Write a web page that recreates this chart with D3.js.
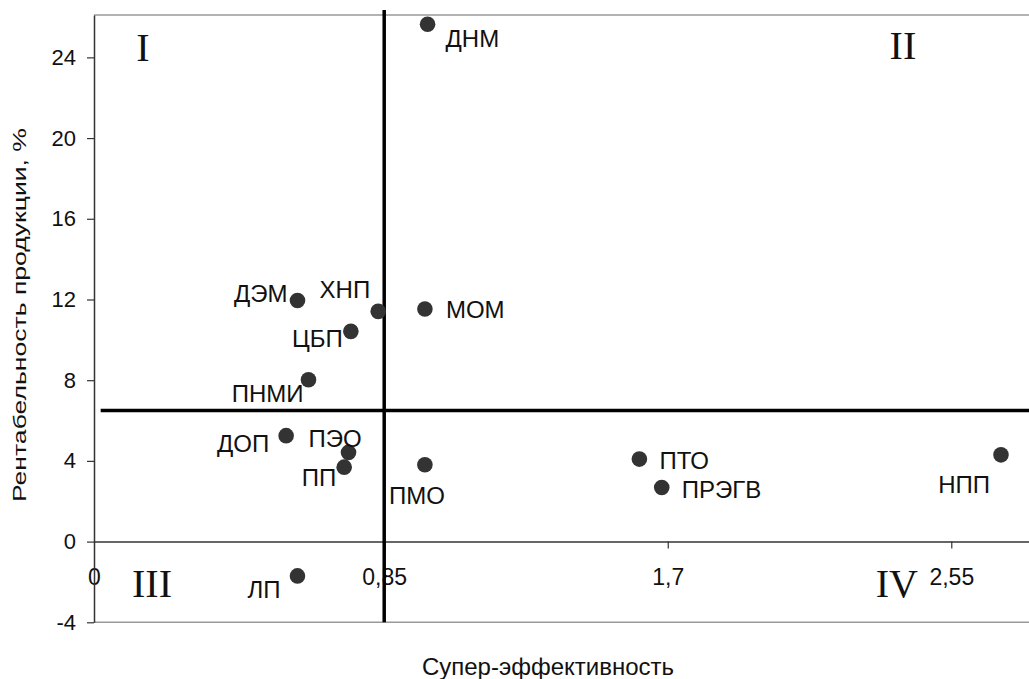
<!DOCTYPE html>
<html>
<head>
<meta charset="utf-8">
<script src="https://cdn.jsdelivr.net/npm/d3@7"></script>
<style>
    body { margin: 0; background: #fff; }
    text { font-family: "Liberation Sans", Arial, sans-serif; fill: #111; }
</style>
</head>
<body>
<div id="chart"></div>
<script>
// enterprises: super-efficiency vs product profitability (%)
const pointNames = ["ДНМ", "ДЭМ", "ХНП", "МОМ", "ЦБП", "ПНМИ", "ДОП", "ПЭО", "ПП", "ПМО", "ЛП", "ПТО", "ПРЭГВ", "НПП"];
const superEff = [0.98, 0.59, 0.832, 0.972, 0.75, 0.623, 0.556, 0.743, 0.73, 0.972, 0.59, 1.615, 1.682, 2.699];
const profitability = [25.64, 11.95, 11.41, 11.53, 10.42, 8.02, 5.25, 4.42, 3.69, 3.81, -1.7, 4.09, 2.68, 4.3];

const effThreshold = 0.85;
const profitThreshold = 6.5;

const xTicks = [0, 0.85, 1.7, 2.55];
const yTicks = [-4, 0, 4, 8, 12, 16, 20, 24];

const quadrantNames = ["I", "II", "III", "IV"];
const quadrantX = [0.127, 2.405, 0.154, 2.387];
const quadrantY = [23.8, 23.9, -2.74, -2.74];

const xTitle = "Супер-эффективность";
const yTitle = "Рентабельность продукции, %";

// label placement next to each dot: dx, dy, anchor
const labelPlace = {
    "ДНМ": [18, 23, "start"],
    "ДЭМ": [-10, 2, "end"],
    "ХНП": [-8, -13, "end"],
    "МОМ": [21, 9, "start"],
    "ЦБП": [-8, 16, "end"],
    "ПНМИ": [-5, 22, "end"],
    "ДОП": [-17, 16.5, "end"],
    "ПЭО": [-40, -5, "start"],
    "ПП": [-8, 19, "end"],
    "ПМО": [-36, 39, "start"],
    "ЛП": [-17, 22, "end"],
    "ПТО": [20, 10, "start"],
    "ПРЭГВ": [20, 10, "start"],
    "НПП": [-11, 38, "end"]
};

const W = 1029, H = 679;
const plotLeft = 94, plotRight = 1029, plotTop = 15, plotBottom = 622.3;

const data = pointNames.map((n, i) => ({name: n, x: superEff[i], y: profitability[i]}));

const svg = d3.select("#chart").append("svg")
    .attr("width", W)
    .attr("height", H);

const x = d3.scaleLinear()
    .domain([-0.02, 2.783])
    .range([plotLeft, plotRight]);

const y = d3.scaleLinear()
    .domain([-4, 26.1])
    .range([plotBottom, plotTop]);

const fmt = d => String(d).replace(".", ",");

// top and bottom frame lines
svg.append("line")
    .attr("x1", plotLeft).attr("x2", plotRight)
    .attr("y1", y(26.1)).attr("y2", y(26.1))
    .attr("stroke", "#9a9a9a").attr("stroke-width", 1.5);
svg.append("line")
    .attr("x1", plotLeft).attr("x2", plotRight)
    .attr("y1", y(-4)).attr("y2", y(-4))
    .attr("stroke", "#9a9a9a").attr("stroke-width", 1.5);

// x axis through zero
const xAxis = svg.append("g")
    .attr("transform", "translate(0," + y(0) + ")")
    .call(d3.axisBottom(x).tickValues(xTicks).tickFormat(fmt)
        .tickSize(7).tickSizeOuter(0).tickPadding(20));
xAxis.select(".domain").attr("stroke", "#333").attr("stroke-width", 1.5);
xAxis.selectAll(".tick line").attr("stroke", "#333").attr("stroke-width", 1.2)
    .filter(d => d === 0).remove();
xAxis.selectAll(".tick text")
    .style("font-size", "23px")
    .style("font-family", "Liberation Sans, Arial, sans-serif")
    .attr("fill", "#111");
// the zero label sits on the y axis line in the original
xAxis.selectAll(".tick text").filter(d => d === 0)
    .attr("x", plotLeft - x(0));

// y axis
const yAxis = svg.append("g")
    .attr("transform", "translate(" + plotLeft + ",0)")
    .call(d3.axisLeft(y).tickValues(yTicks).tickFormat(d => d)
        .tickSize(7).tickSizeOuter(0).tickPadding(11));
yAxis.select(".domain").attr("stroke", "#333").attr("stroke-width", 1.5);
yAxis.selectAll(".tick line").attr("stroke", "#333").attr("stroke-width", 1.2);
yAxis.selectAll(".tick text")
    .style("font-size", "22px")
    .style("font-family", "Liberation Sans, Arial, sans-serif")
    .attr("fill", "#111");

// quadrant dividers
svg.append("line")
    .attr("x1", x(effThreshold)).attr("x2", x(effThreshold))
    .attr("y1", y(26.35)).attr("y2", y(-4))
    .attr("stroke", "#000").attr("stroke-width", 3.5);
svg.append("line")
    .attr("x1", x(0)).attr("x2", plotRight)
    .attr("y1", y(profitThreshold)).attr("y2", y(profitThreshold))
    .attr("stroke", "#000").attr("stroke-width", 3.5);

// quadrant numerals
svg.selectAll(".quad")
    .data(quadrantNames)
    .enter()
    .append("text")
    .attr("class", "quad")
    .attr("x", (d, i) => x(quadrantX[i]))
    .attr("y", (d, i) => y(quadrantY[i]))
    .attr("text-anchor", "middle")
    .style("font-family", "Liberation Serif, Times New Roman, serif")
    .style("font-size", "40px")
    .text(d => d);

// points
svg.append("g")
    .selectAll("circle")
    .data(data)
    .enter()
    .append("circle")
    .attr("cx", d => x(d.x))
    .attr("cy", d => y(d.y))
    .attr("r", 7.8)
    .attr("fill", "#333");

svg.append("g")
    .selectAll("text")
    .data(data)
    .enter()
    .append("text")
    .attr("x", d => x(d.x) + labelPlace[d.name][0])
    .attr("y", d => y(d.y) + labelPlace[d.name][1])
    .attr("text-anchor", d => labelPlace[d.name][2])
    .style("font-size", "24px")
    .text(d => d.name);

// axis titles
svg.append("text")
    .attr("x", 548)
    .attr("y", 675)
    .attr("text-anchor", "middle")
    .style("font-size", "24px")
    .text(xTitle);

svg.append("text")
    .attr("transform", "translate(26,315) rotate(-90)")
    .attr("text-anchor", "middle")
    .attr("textLength", 374)
    .attr("lengthAdjust", "spacingAndGlyphs")
    .style("font-size", "17.5px")
    .text(yTitle);
</script>
</body>
</html>
